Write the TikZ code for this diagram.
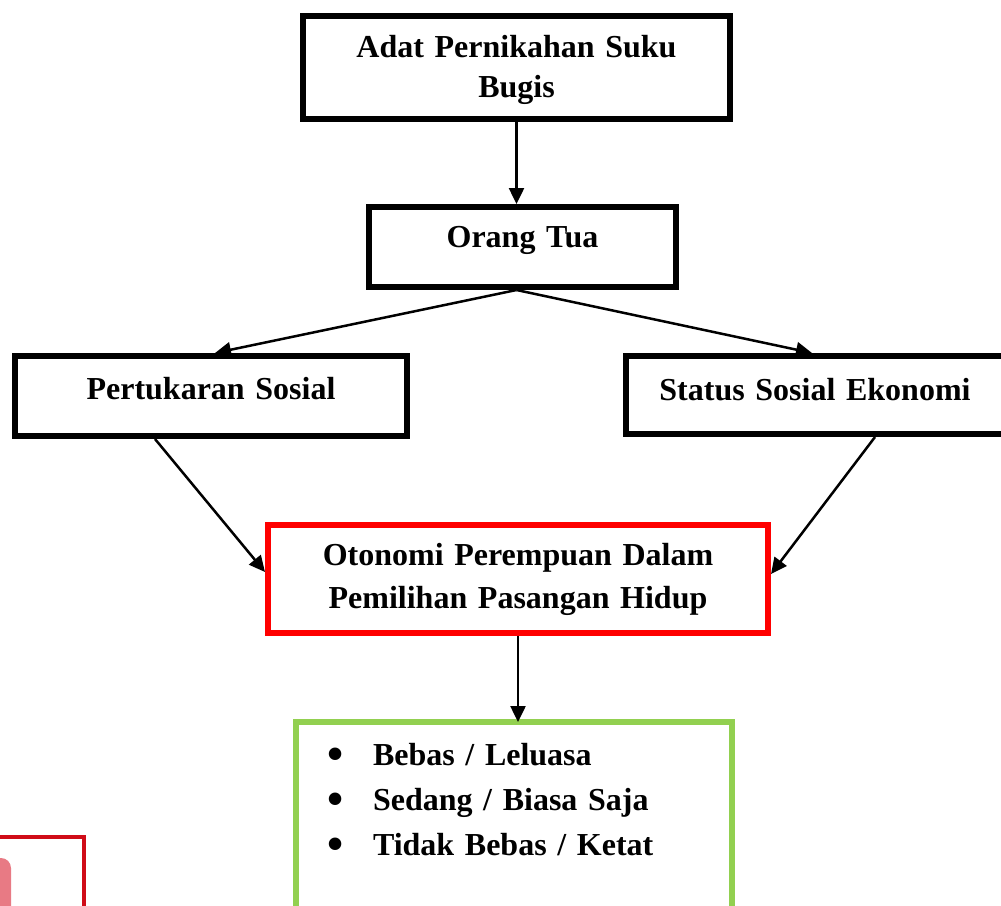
\documentclass[tikz,border=0pt]{standalone}
\usepackage{fontspec}
\setmainfont{Liberation Serif}
\usetikzlibrary{arrows.meta}
\definecolor{kmerah}{RGB}{255,0,0}
\definecolor{khijau}{RGB}{146,208,80}
\definecolor{ktepi}{RGB}{208,12,24}
\definecolor{kpink}{RGB}{232,122,132}
\newcommand{\kbullet}{\makebox[45.5pt][l]{\raisebox{-4pt}{\fontsize{46}{46}\selectfont\textbullet}}}
\tikzset{kotak/.style={draw,line width=6pt,inner sep=0pt,anchor=north west,align=center,font=\fontsize{32}{40}\selectfont\bfseries},
panah/.style={line width=2.5pt,-{Triangle[length=16pt,width=15pt]}}}
\begin{document}
\begin{tikzpicture}[x=1pt,y=-1pt]
\clip(0,0)rectangle(1001,905);
\node[kotak,text width=427pt,text height=41pt,text depth=62pt](adat) at (300,13){Adat Pernikahan Suku\\Bugis};
\node[kotak,text width=307pt,text height=40pt,text depth=40pt](orang) at (366,204){Orang Tua};
\node[kotak,text width=392pt,text height=43pt,text depth=37pt](tukar) at (12,353){Pertukaran Sosial};
\node[kotak,text width=378pt,text height=44pt,text depth=34pt](status) at (623,353){Status Sosial Ekonomi};
\node[kotak,draw=kmerah,text width=500pt,text height=40pt,text depth=68pt,font=\fontsize{32}{43}\selectfont\bfseries](otonomi) at (265,522){Otonomi Perempuan Dalam\\Pemilihan Pasangan Hidup};
\node[kotak,draw=khijau,align=left,inner xsep=31.5pt,text width=373pt,text height=43pt,text depth=190pt,font=\fontsize{32}{45}\selectfont\bfseries](hasil) at (293,719){\kbullet Bebas / Leluasa\\\kbullet Sedang / Biasa Saja\\\kbullet Tidak Bebas / Ketat};
\fill[kpink,rounded corners=10pt](-40,858)rectangle(11,930);
\draw[ktepi,line width=4pt](-10,837)rectangle(84,930);
\draw[panah](adat.south)--(adat.south|-orang.north);
\draw[panah](adat.south|-orang.south)--([xshift=203pt]tukar.north west);
\draw[panah](adat.south|-orang.south)--([xshift=189pt]status.north west);
\draw[panah]([xshift=143pt]tukar.south west)--([yshift=-50pt]otonomi.north west);
\draw[panah]([xshift=252pt]status.south west)--([yshift=-52pt]otonomi.north east);
\draw[panah](otonomi.south)--([yshift=-3pt]otonomi.south|-hasil.north);
\end{tikzpicture}
\end{document}
